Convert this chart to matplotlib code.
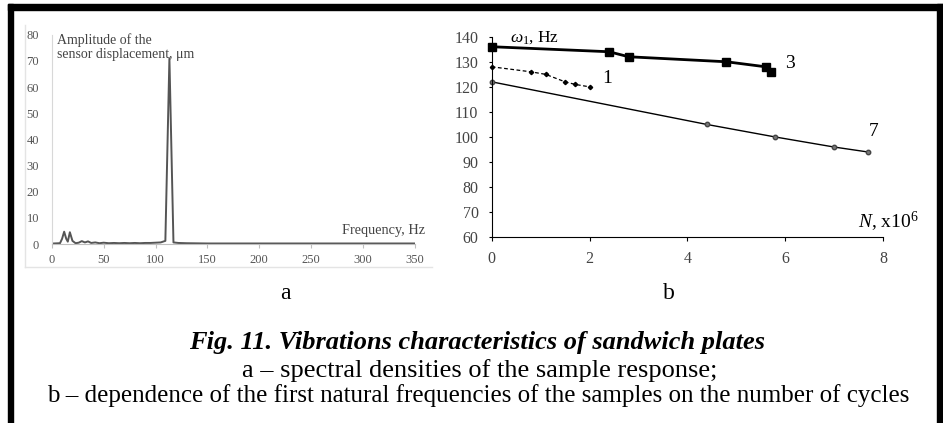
import matplotlib
matplotlib.use('Agg')
import matplotlib.pyplot as plt
from matplotlib.patches import Rectangle
from matplotlib.lines import Line2D

plt.rcParams['font.family'] = ['Liberation Serif', 'DejaVu Serif']
plt.rcParams['mathtext.fontset'] = 'custom'
plt.rcParams['mathtext.rm'] = 'Liberation Serif'
plt.rcParams['mathtext.it'] = 'Liberation Serif:italic'

# panel a: spectrum of the sensor response
freq = [2, 8, 10, 12, 14, 15.5, 17.5, 20, 23, 26, 29, 32, 35, 38, 42, 46, 50, 55, 60,
        65, 70, 75, 80, 85, 90, 95, 100, 105, 109.5, 113.4, 117.3, 122, 130, 150, 200,
        250, 300, 350]
amp = [0.2, 0.3, 2.0, 4.7, 2.0, 0.9, 4.5, 1.2, 0.3, 0.5, 1.1, 0.6, 1.0, 0.4, 0.6, 0.3,
       0.5, 0.3, 0.4, 0.3, 0.4, 0.3, 0.4, 0.3, 0.4, 0.4, 0.5, 0.6, 1.2, 71, 0.6, 0.4,
       0.3, 0.2, 0.2, 0.2, 0.2, 0.2]
a_xticks = [0, 50, 100, 150, 200, 250, 300, 350]
a_yticks = [0, 10, 20, 30, 40, 50, 60, 70, 80]

# panel b: first natural frequency vs number of cycles (x10^6)
n1 = [0, 0.8, 1.1, 1.5, 1.7, 2.0]
w1 = [128, 126, 125, 122, 121, 120]
n3 = [0, 2.4, 2.8, 4.8, 5.6, 5.7]
w3 = [136, 134, 132, 130, 128, 126]
n7 = [0, 4.4, 5.8, 7.0, 7.7]
w7 = [122, 105, 100, 96, 94]
b_xticks = [0, 2, 4, 6, 8]
b_yticks = [60, 70, 80, 90, 100, 110, 120, 130, 140]

W, H = 943, 423
fig = plt.figure(figsize=(W / 100, H / 100), dpi=100)


def fx(px):
    return px / W


def fy(py):
    return 1 - py / H


# outer black frame (left, top, right)
fig.patches.append(Rectangle((fx(8), 0), fx(5), fy(4), color='black', transform=fig.transFigure))
fig.patches.append(Rectangle((fx(8), fy(10)), fx(935), 6 / H, color='black', transform=fig.transFigure))
fig.patches.append(Rectangle((fx(937), 0), fx(6), fy(4), color='black', transform=fig.transFigure))

# faint edge of the embedded picture (a)
fig.lines.append(Line2D([fx(25), fx(25)], [fy(25), fy(267)], color='#e4e4e4', lw=1, transform=fig.transFigure))
fig.lines.append(Line2D([fx(25), fx(432)], [fy(267), fy(267)], color='#e4e4e4', lw=1, transform=fig.transFigure))

# ---- panel a ----
ax1 = fig.add_axes([fx(51.7), fy(244), fx(363.3), 209.3 / H])
ax1.plot(freq, amp, color='#555555', lw=1.4)
ax1.set_xlim(0, 350)
ax1.set_ylim(0, 80)
ax1.set_xticks(a_xticks)
ax1.set_yticks(a_yticks)
for s in ['top', 'right']:
    ax1.spines[s].set_visible(False)
ax1.spines['left'].set_color('#d8d8d8')
ax1.spines['bottom'].set_color('#bfbfbf')
ax1.tick_params(axis='x', length=3, color='#bfbfbf', labelsize=9, labelcolor='#555555', pad=4)
ax1.tick_params(axis='y', length=0, labelsize=9, labelcolor='#555555', pad=9)
ax1.text(5, 80.5, 'Amplitude of the\nsensor displacement, μm', fontsize=10, color='#444444',
         va='top', ha='left', linespacing=1.05)
ax1.text(360, 2.5, 'Frequency, Hz', fontsize=10.3, color='#444444', ha='right', va='bottom')

# ---- panel b ----
ax2 = fig.add_axes([fx(491.7), fy(237.3), fx(391.3), 200.6 / H])
ax2.plot(n3, w3, color='black', lw=2, marker='s', ms=5.5, clip_on=False)
ax2.plot(n1, w1, color='black', lw=0.9, ls=(0, (3, 2)), marker='D', ms=2.2, clip_on=False)
ax2.plot(n7, w7, color='black', lw=1.0, marker='o', ms=3.2, mfc='#777777', mec='#444444', clip_on=False)
ax2.set_xlim(0, 8)
ax2.set_ylim(60, 140)
ax2.set_xticks(b_xticks)
ax2.set_yticks(b_yticks)
for s in ['top', 'right']:
    ax2.spines[s].set_visible(False)
ax2.tick_params(axis='x', length=3, labelsize=11.5, labelcolor='#444444', pad=7)
ax2.tick_params(axis='y', length=2.5, labelsize=11.5, labelcolor='#444444', pad=7)
ax2.text(2.36, 123.3, '1', fontsize=14, ha='center', va='center')
ax2.text(6.1, 129.5, '3', fontsize=14, ha='center', va='center')
ax2.text(7.8, 102.2, '7', fontsize=14, ha='center', va='center')
ax2.text(0.37, 139.7, r'$\omega_1$, Hz', fontsize=12.5, ha='left', va='center')
ax2.text(7.49, 63.7, r'$N$, x10$^6$', fontsize=14, ha='left', va='baseline')

# ---- captions ----
fig.text(fx(285), fy(299), 'a', fontsize=17, ha='center', va='baseline')
fig.text(fx(669), fy(299), 'b', fontsize=17, ha='center', va='baseline')
fig.text(fx(477), fy(349), 'Fig. 11. Vibrations characteristics of sandwich plates',
         fontsize=19, fontweight='bold', fontstyle='italic', ha='center', va='baseline')
fig.text(fx(480), fy(377), 'a – spectral densities of the sample response;',
         fontsize=19, ha='center', va='baseline')
fig.text(fx(478), fy(402),
         'b – dependence of the first natural frequencies of the samples on the number of cycles',
         fontsize=18, ha='center', va='baseline')

fig.savefig('out.png', dpi=100)
